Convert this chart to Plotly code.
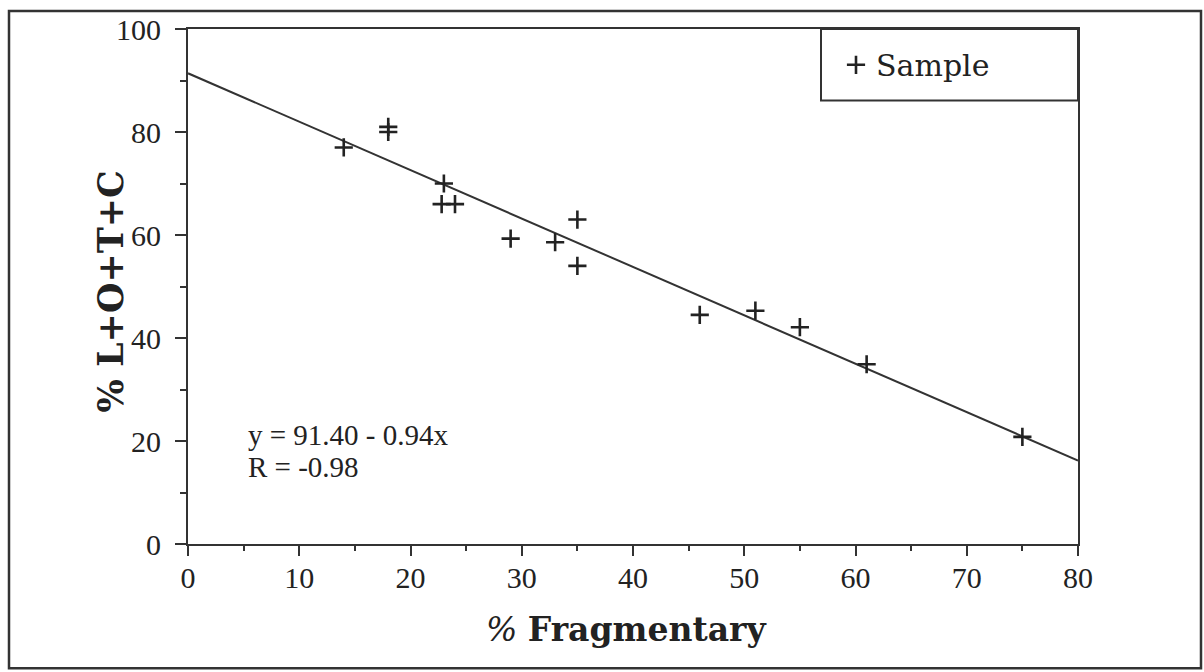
import numpy as np
import plotly.graph_objects as go

# % fragmentary specimens vs % L+O+T+C per sample
frag = [14, 18, 18, 23, 22.8, 24.0, 29, 33, 35, 35, 46, 51, 55, 61, 75]
lotc = [77, 81, 80, 70, 66, 66, 59.3, 58.6, 63, 54, 44.5, 45.3, 42.1, 34.9, 20.8]

# least-squares fit reported on the chart
intercept = 91.40
slope = -0.94
r_value = -0.98

x_ticks = [0, 10, 20, 30, 40, 50, 60, 70, 80]
y_ticks = [0, 20, 40, 60, 80, 100]

# page geometry (pixels)
W, H = 1204, 672
L, R, T, B = 188, 1078, 26, 544
pw, ph = R - L, B - T


def px_x(px):
    return (px - L) / pw


def px_y(py):
    return (B - py) / ph


ink = "#222222"
serif = "Liberation Serif"
wide_serif = "DejaVu Serif"

fit_x = np.array([x_ticks[0], x_ticks[-1]], dtype=float)
fit_y = intercept + slope * fit_x

fig = go.Figure()
fig.add_trace(go.Scatter(
    x=fit_x, y=fit_y, mode="lines",
    line=dict(color="#333333", width=2),
    showlegend=False, hoverinfo="skip",
))
fig.add_trace(go.Scatter(
    x=frag, y=lotc, mode="markers", name="Sample",
    marker=dict(symbol="cross-thin", size=13, line=dict(color=ink, width=2.6)),
    cliponaxis=False,
))

axis_common = dict(
    showgrid=False, zeroline=False, showline=True, mirror=True,
    linecolor="#333333", linewidth=2,
    ticks="outside", tickcolor="#333333", tickwidth=2,
    tickfont=dict(family=serif, size=30, color=ink),
)

fig.update_xaxes(
    range=[0, 80], tickvals=x_ticks, ticklen=10, ticklabelstandoff=-4,
    minor=dict(dtick=5, ticks="outside", ticklen=5, tickcolor="#333333", tickwidth=2),
    **axis_common,
)
fig.update_yaxes(
    range=[0, 100], tickvals=y_ticks, ticklen=11, ticklabelstandoff=8,
    minor=dict(dtick=10, ticks="outside", ticklen=6, tickcolor="#333333", tickwidth=2),
    **axis_common,
)

eq_font = dict(family=serif, size=29, color=ink)
annotations = [
    dict(text="<i>%</i> <b>Fragmentary</b>", xref="paper", yref="paper",
         x=px_x(626), y=px_y(630), xanchor="center", yanchor="middle",
         showarrow=False, font=dict(family=wide_serif, size=33, color=ink)),
    dict(text="<b>% L+O+T+C</b>", xref="paper", yref="paper",
         x=px_x(110), y=px_y(290), xanchor="center", yanchor="middle",
         textangle=-90, showarrow=False,
         font=dict(family=wide_serif, size=35, color=ink)),
    dict(text=f"y = {intercept:.2f} - {abs(slope):.2f}x",
         xref="paper", yref="paper", x=px_x(246), y=px_y(434),
         xanchor="left", yanchor="middle", showarrow=False, font=eq_font),
    dict(text=f"R = {r_value:.2f}",
         xref="paper", yref="paper", x=px_x(246), y=px_y(467),
         xanchor="left", yanchor="middle", showarrow=False, font=eq_font),
]

shapes = [
    # frame around the whole figure
    dict(type="rect", xref="paper", yref="paper",
         x0=px_x(9), x1=px_x(1201), y0=px_y(669), y1=px_y(8),
         line=dict(color="#333333", width=2.5)),
    # legend box
    dict(type="rect", xref="paper", yref="paper",
         x0=px_x(821), x1=1, y0=px_y(98), y1=1,
         line=dict(color="#333333", width=2)),
]

fig.update_layout(
    width=W, height=H, autosize=False,
    margin=dict(l=L, r=W - R, t=T, b=H - B, pad=0),
    paper_bgcolor="white", plot_bgcolor="white",
    showlegend=True,
    legend=dict(x=px_x(836), y=px_y(62), xanchor="left", yanchor="middle",
                bgcolor="rgba(0,0,0,0)", borderwidth=0,
                font=dict(family=wide_serif, size=30, color=ink)),
    annotations=annotations, shapes=shapes,
)

fig.write_html("out.html")
